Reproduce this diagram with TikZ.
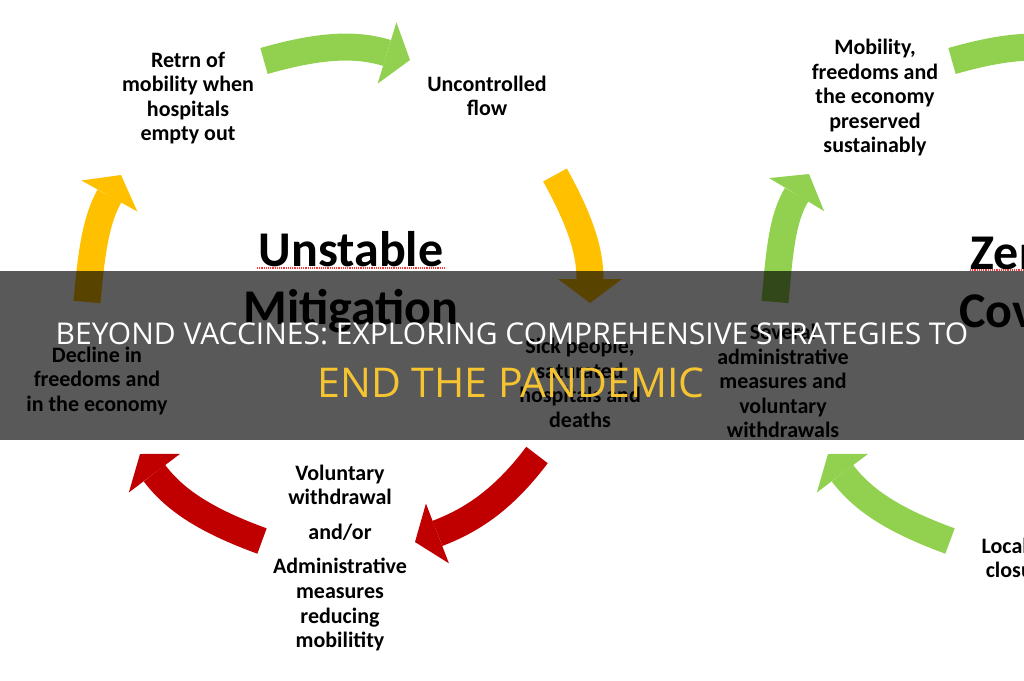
\documentclass[tikz,border=0pt]{standalone}
\usepackage{fontspec}
\setmainfont{Carlito}
\newfontfamily\bannerfont{Open Sans}
\usetikzlibrary{arrows.meta, positioning}

\definecolor{cgreen}{HTML}{92D050}
\definecolor{cgold}{HTML}{FFC000}
\definecolor{cred}{HTML}{C00000}
\definecolor{bannergold}{HTML}{F6C430}

\tikzset{
  cycletext/.style={font=\bfseries\fontsize{22}{24.5}\selectfont, align=center, inner sep=0pt},
  cycletitle/.style={font=\bfseries\fontsize{50}{58}\selectfont, align=center, inner sep=0pt},
  flowarrow/.style={line width=27pt, #1, -{Triangle[width=64pt, length=24pt, line width=0pt]}},
  squiggle/.style={red!80!white, densely dotted, line width=1.2pt},
  bannertext/.style={font=\bannerfont\fontsize{#1}{#1}\selectfont, inner sep=0pt},
}

\begin{document}
\begin{tikzpicture}[x=1pt, y=1pt]
\useasboundingbox (0,0) rectangle (1024,-680);
\clip (0,0) rectangle (1024,-680);
\fill[white] (0,0) rectangle (1024,-680);

% left cycle
\node[cycletitle] (unstable) at (351,-282) {Unstable\\Mitigation};
\node[cycletext] (retrn) at (188,-98) {Retrn of\\mobility when\\hospitals\\empty out};
\node[cycletext] (flow) at (487,-96) {Uncontrolled\\flow};
\node[cycletext] (sick) at (580,-383) {Sick people,\\saturated\\hospitals and\\deaths};
\node[cycletext] (voluntary) at (340,-558) {Voluntary\\withdrawal\\[10pt]and/or\\[10pt]Administrative\\measures\\reducing\\mobilitity};
\node[cycletext] (decline) at (97,-381) {Decline in\\freedoms and\\in the economy};

% right cycle
\node[cycletitle] (zero) at (1017,-282) {Zero\\Covid};
\node[cycletext] (mobility) at (875,-98) {Mobility,\\freedoms and\\the economy\\preserved\\sustainably};
\node[cycletext] (several) at (783,-381) {Several\\administrative\\measures and\\voluntary\\withdrawals};
\node[cycletext] (local) at (1023,-558) {Localized\\closures};

% spell check marks
\draw[squiggle] (257,-268) -- (445,-268);
\draw[squiggle] (970,-270) -- (1024,-270);

% top
\coordinate (a1) at (264,-61);
\coordinate (a2) at (410,-60);
\draw[flowarrow=cgreen] (a1) to[out=16, in=163] (a2);
% right
\coordinate (b1) at (555,-175);
\coordinate (b2) at (590,-303);
\draw[flowarrow=cgold] (b1) to[out=-61, in=90] (b2);
% bottom right
\coordinate (c1) at (537,-455);
\coordinate (c2) at (415,-542);
\draw[flowarrow=cred] (c1) to[out=-127, in=21] (c2);
% bottom left
\coordinate (d1) at (262,-541);
\coordinate (d2) at (140,-454);
\draw[flowarrow=cred] (d1) to[out=160, in=-53] (d2);
% left
\coordinate (e1) at (87,-302);
\coordinate (e2) at (121,-175);
\draw[flowarrow=cgold] (e1) to[out=85, in=-119] (e2);

% right cycle, left
\coordinate (f1) at (775,-302);
\coordinate (f2) at (809,-174);
\draw[flowarrow=cgreen] (f1) to[out=85, in=-121] (f2);
% right cycle, top
\coordinate (g1) at (952,-61);
\coordinate (g2) at (1098,-60);
\draw[flowarrow=cgreen] (g1) to[out=16, in=163] (g2);
% right cycle, bottom
\coordinate (h1) at (950,-541);
\coordinate (h2) at (828,-454);
\draw[flowarrow=cgreen] (h1) to[out=160, in=-53] (h2);

% banner
\fill[black, opacity=0.65] (0,-271) rectangle (1024,-440);
\node[bannertext=30, text=white] (headline) at (512,-334) {BEYOND VACCINES: EXPLORING COMPREHENSIVE STRATEGIES TO};
\node[bannertext=41, text=bannergold] (subline) at (511,-383) {END THE PANDEMIC};
\end{tikzpicture}
\end{document}
